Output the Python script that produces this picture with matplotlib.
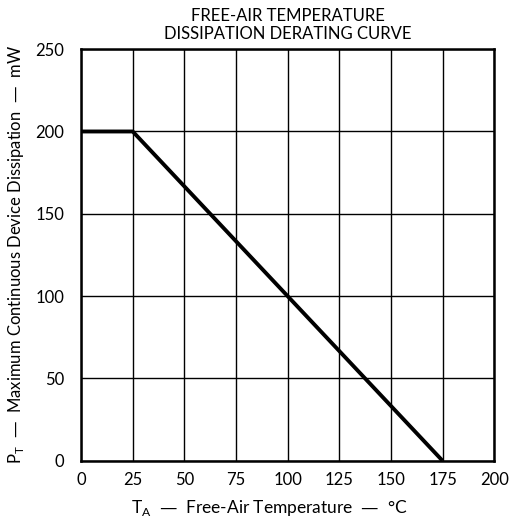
import matplotlib.pyplot as plt

# derating curve points
temp = [0, 25, 175]
power = [200, 200, 0]

x_ticks = [0, 25, 50, 75, 100, 125, 150, 175, 200]
y_ticks = [0, 50, 100, 150, 200, 250]

plt.rcParams['font.family'] = ['Lato', 'DejaVu Sans']

fig = plt.figure(figsize=(5.1, 5.23), dpi=100)
ax = fig.add_axes([0.159, 0.119, 0.81, 0.787])

ax.plot(temp, power, color='black', linewidth=2.8, solid_capstyle='butt', zorder=3)

ax.set_xlim(0, 200)
ax.set_ylim(0, 250)
ax.set_xticks(x_ticks)
ax.set_yticks(y_ticks)
ax.tick_params(length=0, labelsize=12, pad=8)
ax.tick_params(axis='y', pad=12)
ax.grid(True, color='black', linewidth=1.0)
for s in ax.spines.values():
    s.set_linewidth(1.8)

ax.set_xlabel(r'T$_\mathregular{A}$  —  Free-Air Temperature  —  °C', fontsize=12.5)
ax.xaxis.set_label_coords(0.455, -0.09)
ax.set_ylabel(r'P$_\mathregular{T}$  —  Maximum Continuous Device Dissipation  —  mW', fontsize=12, labelpad=7)
ax.set_title('FREE-AIR TEMPERATURE\nDISSIPATION DERATING CURVE', fontsize=12, pad=7, linespacing=1.15)

fig.savefig('out.png', dpi=100)
